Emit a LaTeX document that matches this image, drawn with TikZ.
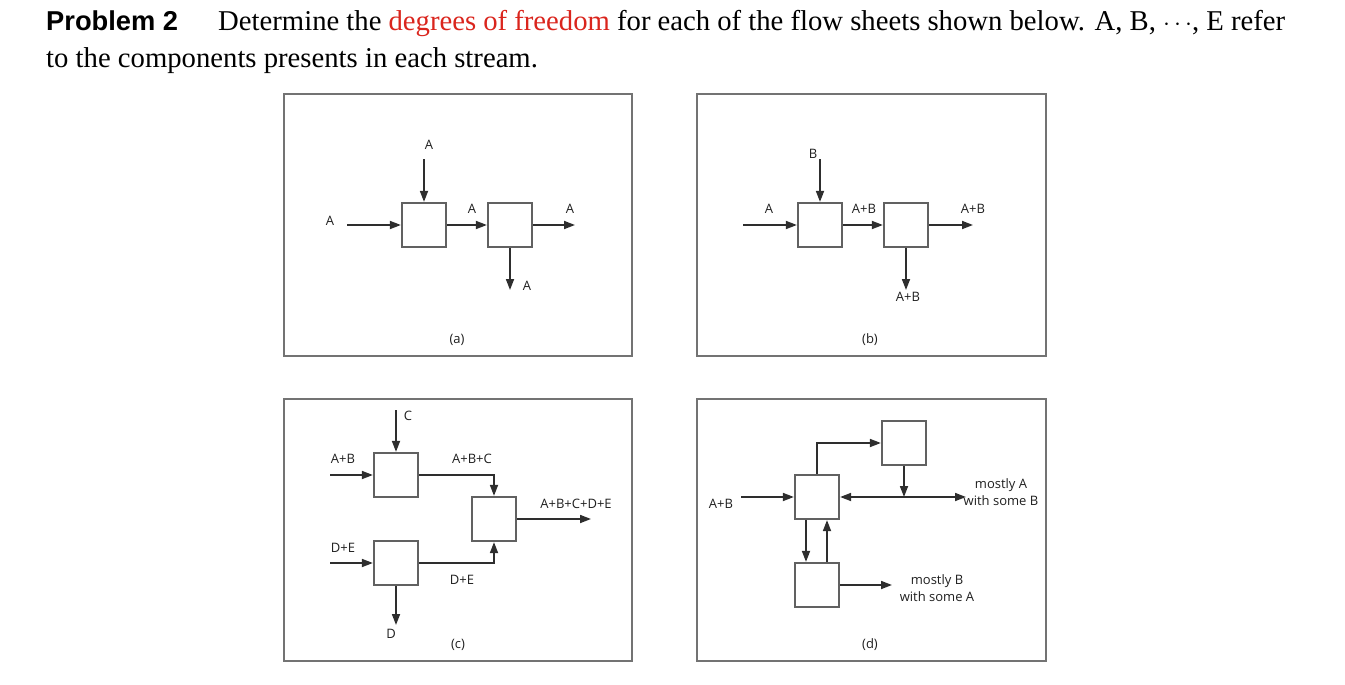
\documentclass[tikz,border=0pt]{standalone}
\usepackage{fontspec}
\setmainfont{Liberation Serif}
\newfontfamily\probfont{Liberation Sans}
\newfontfamily\labelfont{Open Sans}
\usetikzlibrary{arrows.meta}
\definecolor{dofred}{RGB}{218,37,29}
\tikzset{
  frame/.style={draw=black!55, line width=1.8pt},
  unit/.style={draw=black!62, line width=2.2pt, minimum size=44pt, inner sep=0pt},
  flow/.style={draw=black!82, line width=1.7pt, -{Triangle[length=11pt,width=8pt]}},
  lbl/.style={font=\labelfont\fontsize{13}{17}\selectfont, text=black!88, inner sep=0pt, align=center},
  title/.style={font=\fontsize{28.7}{36}\selectfont, inner sep=0pt, anchor=base west},
}
\begin{document}
\begin{tikzpicture}[x=1pt,y=-1pt]
\useasboundingbox (0,0) rectangle (1345,685);
% title
\node[title, font=\probfont\bfseries\fontsize{27.3}{36}\selectfont] (pnum) at (46,30.7) {Problem 2};
\node[title] (line1) at (218,30.7) {\makebox[1067pt][s]{Determine the \textcolor{dofred}{degrees of freedom} for each of the flow sheets shown below. A, B, $\cdots$, E refer}};
\node[title] (line2) at (46,67.5) {to the components presents in each stream.};

% frames
\draw[frame] (284,94) rectangle (632,356);
\draw[frame] (697,94) rectangle (1046,356);
\draw[frame] (284,399) rectangle (632,661);
\draw[frame] (697,399) rectangle (1046,661);

% ---------- (a)
\node[unit] (a1) at (424,225) {};
\node[unit] (a2) at (510,225) {};
\coordinate (ain) at (347,225);
\coordinate (atop) at (424,159);
\coordinate (aout) at (575,225);
\coordinate (adown) at (510,290);
\draw[flow] (ain) -- (a1.west);
\draw[flow] (atop) -- (a1.north);
\draw[flow] (a1.east) -- (a2.west);
\draw[flow] (a2.east) -- (aout);
\draw[flow] (a2.south) -- (adown);
\node[lbl] (la1) at (330,221) {A};
\node[lbl] (la2) at (429,145) {A};
\node[lbl] (la3) at (472,209) {A};
\node[lbl] (la4) at (570,209) {A};
\node[lbl] (la5) at (527,286) {A};
\node[lbl] (capa) at (457,340) {(a)};

% ---------- (b)
\node[unit] (b1) at (820,225) {};
\node[unit] (b2) at (906,225) {};
\coordinate (bin) at (743,225);
\coordinate (btop) at (820,159);
\coordinate (bout) at (973,225);
\coordinate (bdown) at (906,290);
\draw[flow] (bin) -- (b1.west);
\draw[flow] (btop) -- (b1.north);
\draw[flow] (b1.east) -- (b2.west);
\draw[flow] (b2.east) -- (bout);
\draw[flow] (b2.south) -- (bdown);
\node[lbl] (lb1) at (769,209) {A};
\node[lbl] (lb2) at (813,154) {B};
\node[lbl] (lb3) at (864,209) {A+B};
\node[lbl] (lb4) at (973,209) {A+B};
\node[lbl] (lb5) at (908,297) {A+B};
\node[lbl] (capb) at (870,340) {(b)};

% ---------- (c)
\node[unit] (c1) at (396,475) {};
\node[unit] (c2) at (396,563) {};
\node[unit] (c3) at (494,519) {};
\coordinate (ctop) at (396,410);
\coordinate (cin1) at (330,475);
\coordinate (cin2) at (330,563);
\coordinate (cdown) at (396,625);
\coordinate (cout) at (591,519);
\draw[flow] (ctop) -- (c1.north);
\draw[flow] (cin1) -- (c1.west);
\draw[flow] (cin2) -- (c2.west);
\draw[flow] (c1.east) -| (c3.north);
\draw[flow] (c2.east) -| (c3.south);
\draw[flow] (c2.south) -- (cdown);
\draw[flow] (c3.east) -- (cout);
\node[lbl] (lc1) at (408,416) {C};
\node[lbl] (lc2) at (343,459) {A+B};
\node[lbl] (lc3) at (472,459) {A+B+C};
\node[lbl] (lc4) at (343,548) {D+E};
\node[lbl] (lc5) at (462,580) {D+E};
\node[lbl] (lc6) at (391,634) {D};
\node[lbl] (lc7) at (576,504) {A+B+C+D+E};
\node[lbl] (capc) at (458,645) {(c)};

% ---------- (d)
\node[unit] (d1) at (817,497) {};
\node[unit] (d2) at (904,443) {};
\node[unit] (d3) at (817,585) {};
\coordinate (din) at (741,497);
\coordinate (dj) at (904,497);
\coordinate (dout) at (966,497);
\coordinate (dout2) at (892,585);
\draw[flow] (din) -- (d1.west);
\draw[flow] (d1.north) |- (d2.west);
\draw[flow] (d2.south) -- (dj);
\draw[flow] (dj) -- (d1.east);
\draw[flow] (dj) -- (dout);
\draw[flow] ([xshift=-11pt]d1.south) -- ([xshift=-11pt]d3.north);
\draw[flow] ([xshift=10pt]d3.north) -- ([xshift=10pt]d1.south);
\draw[flow] (d3.east) -- (dout2);
\node[lbl] (ld1) at (721,504) {A+B};
\node[lbl] (ld2) at (1001,492) {mostly A\\with some B};
\node[lbl] (ld3) at (937,588) {mostly B\\with some A};
\node[lbl] (capd) at (870,645) {(d)};
\end{tikzpicture}
\end{document}
